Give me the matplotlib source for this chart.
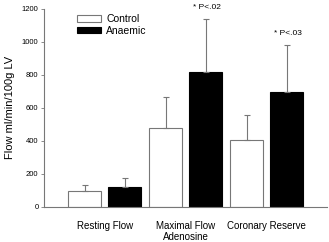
import matplotlib
matplotlib.use("Agg")
import matplotlib.pyplot as plt
import numpy as np

plt.rcParams['font.family'] = ['Liberation Sans', 'DejaVu Sans']

categories = ["Resting Flow", "Maximal Flow\nAdenosine", "Coronary Reserve"]
control = [97, 481, 406]
control_err = [38, 188, 152]
anaemic = [121, 818, 697]
anaemic_err = [53, 321, 283]
annotations = ["", "* P<.02", "* P<.03"]

fig = plt.figure(figsize=(3.29, 2.42), dpi=100)
ax = fig.add_axes([0.134, 0.145, 0.860, 0.818])

x = np.arange(len(categories))
w = 0.407
off = 0.247
gray = "#777777"
ax.bar(x - off, control, w, color="white", edgecolor=gray, linewidth=0.8,
       yerr=[np.zeros(3), control_err], error_kw=dict(ecolor=gray, elinewidth=0.8, capsize=2, capthick=0.8),
       label="Control")
ax.bar(x + off, anaemic, w, color="black", edgecolor="black", linewidth=0.8,
       yerr=[np.zeros(3), anaemic_err], error_kw=dict(ecolor=gray, elinewidth=0.8, capsize=2, capthick=0.8),
       label="Anaemic")

for i, a in enumerate(annotations):
    if a:
        ax.text(x[i] + off - 0.15, anaemic[i] + anaemic_err[i] + 50, a, fontsize=6, ha="left", va="bottom")

ax.set_xlim(-0.747, 2.747)
ax.set_ylim(0, 1200)
ax.set_yticks([0, 200, 400, 600, 800, 1000, 1200])
ax.tick_params(axis="y", labelsize=5.5, length=2, width=0.6, color=gray, pad=2)
ax.set_xticks(x)
ax.set_xticklabels(categories, fontsize=7, linespacing=1.15)
ax.tick_params(axis="x", length=0, pad=10)
ax.spines["top"].set_visible(False)
ax.spines["right"].set_visible(False)
for s in ["left", "bottom"]:
    ax.spines[s].set_color(gray)
    ax.spines[s].set_linewidth(0.8)
ax.set_ylabel("Flow ml/min/100g LV", fontsize=8, labelpad=5)

leg = ax.legend(loc="upper left", bbox_to_anchor=(0.09, 1.01), fontsize=7.5, frameon=False,
                handlelength=2.3, handleheight=0.6, labelspacing=0.15, borderpad=0.2, handletextpad=0.5)

fig.savefig("out.png", dpi=100)
